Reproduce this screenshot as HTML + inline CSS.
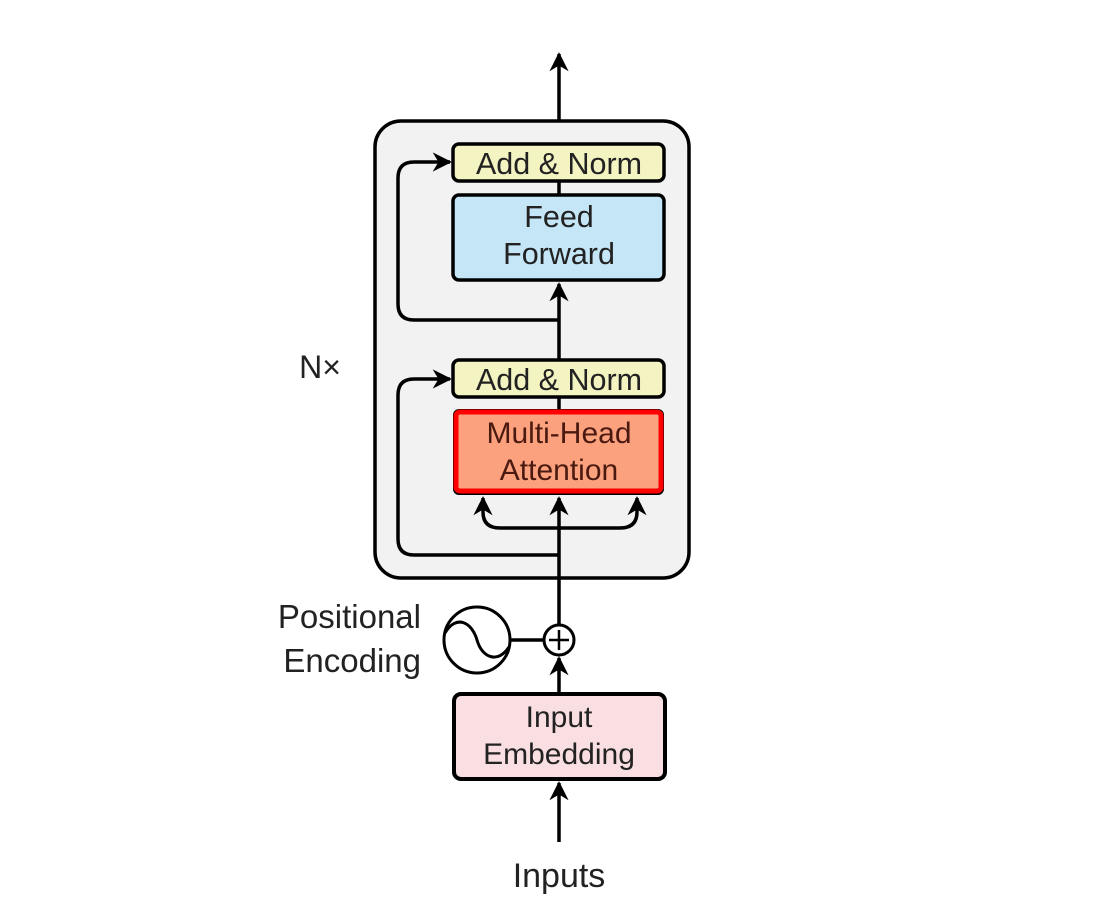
<!DOCTYPE html>
<html><head><meta charset="utf-8"><style>
html,body{margin:0;padding:0;background:#fff;}
svg{display:block;}
text{font-family:"Liberation Sans",sans-serif;fill:#222;}
</style></head><body>
<svg width="1108" height="912" viewBox="0 0 1108 912" xmlns="http://www.w3.org/2000/svg">
<defs>
<marker id="ah" viewBox="0 0 10 10" refX="9" refY="5" markerWidth="5.5" markerHeight="5.5" orient="auto" markerUnits="strokeWidth">
<path d="M0,0 L10,5 L0,10 L3,5 Z" fill="#000"/>
</marker>
</defs>
<rect x="375" y="121" width="314" height="457" rx="26" fill="#f2f2f2" stroke="#000" stroke-width="3.5"/>
<line x1="559" y1="120" x2="559" y2="54" stroke="#000" stroke-width="3.5" marker-end="url(#ah)"/>
<line x1="559" y1="181" x2="559" y2="194" stroke="#000" stroke-width="3.5"/>
<line x1="559" y1="359" x2="559" y2="284" stroke="#000" stroke-width="3.5" marker-end="url(#ah)"/>
<line x1="559" y1="397" x2="559" y2="409" stroke="#000" stroke-width="3.5"/>
<line x1="559" y1="625" x2="559" y2="498" stroke="#000" stroke-width="3.5" marker-end="url(#ah)"/>
<line x1="559" y1="693" x2="559" y2="658" stroke="#000" stroke-width="3.5" marker-end="url(#ah)"/>
<line x1="559" y1="842" x2="559" y2="783" stroke="#000" stroke-width="3.5" marker-end="url(#ah)"/>
<path d="M559,320 L414,320 Q398,320 398,304 L398,178 Q398,162 414,162 L450,162" fill="none" stroke="#000" stroke-width="3.5" marker-end="url(#ah)"/>
<path d="M559,555 L414,555 Q398,555 398,539 L398,395 Q398,379 414,379 L450,379" fill="none" stroke="#000" stroke-width="3.5" marker-end="url(#ah)"/>
<path d="M559,528 L500,528 Q483,528 483,512 L483,498" fill="none" stroke="#000" stroke-width="3.5" marker-end="url(#ah)"/>
<path d="M559,528 L620,528 Q637,528 637,512 L637,498" fill="none" stroke="#000" stroke-width="3.5" marker-end="url(#ah)"/>
<rect x="453" y="144" width="211" height="37" rx="6" fill="#f3f4c2" stroke="#000" stroke-width="3.5"/>
<text x="559" y="174" font-size="30.5" text-anchor="middle">Add &amp; Norm</text>
<rect x="453" y="195" width="211" height="85" rx="6" fill="#c4e6f6" stroke="#000" stroke-width="3.5"/>
<text x="559" y="227" font-size="30.5" text-anchor="middle">Feed</text>
<text x="559" y="264" font-size="30.5" text-anchor="middle">Forward</text>
<rect x="453" y="360" width="211" height="37" rx="6" fill="#f3f4c2" stroke="#000" stroke-width="3.5"/>
<text x="559" y="390" font-size="30.5" text-anchor="middle">Add &amp; Norm</text>
<rect x="453" y="409" width="211" height="86" rx="6" fill="#000"/>
<rect x="456" y="412" width="205" height="79" rx="4" fill="#fca17d" stroke="#f00" stroke-width="5"/>
<text x="559" y="443" font-size="30" text-anchor="middle" style="fill:#4a1a10">Multi-Head</text>
<text x="559" y="480" font-size="30" text-anchor="middle" style="fill:#4a1a10">Attention</text>
<rect x="454" y="694" width="211" height="85" rx="7" fill="#f9dfe1" stroke="#000" stroke-width="4"/>
<text x="559" y="727" font-size="30" text-anchor="middle">Input</text>
<text x="559" y="764" font-size="30" text-anchor="middle">Embedding</text>
<circle cx="477" cy="640" r="33" fill="#fff" stroke="#000" stroke-width="3"/>
<path d="M445,633 C456,614 472,622 477,640 C482,658 498,664 509,647" fill="none" stroke="#000" stroke-width="3"/>
<line x1="510" y1="640" x2="544" y2="640" stroke="#000" stroke-width="3.5"/>
<circle cx="559" cy="640" r="15" fill="#fff" stroke="#000" stroke-width="3"/>
<line x1="549" y1="640" x2="569" y2="640" stroke="#000" stroke-width="2.5"/>
<line x1="559" y1="630" x2="559" y2="650" stroke="#000" stroke-width="2.5"/>
<text x="421" y="628" font-size="33" text-anchor="end">Positional</text>
<text x="421" y="672" font-size="33" text-anchor="end">Encoding</text>
<text x="320" y="378" font-size="32" text-anchor="middle">N×</text>
<text x="559" y="887" font-size="34" text-anchor="middle">Inputs</text>
</svg>
</body></html>
